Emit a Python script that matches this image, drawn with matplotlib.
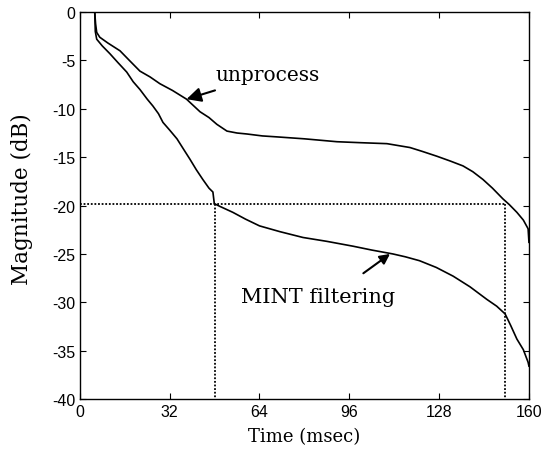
import numpy as np
import matplotlib
matplotlib.use("Agg")
import matplotlib.pyplot as plt

plt.rcParams["axes.unicode_minus"] = False

# unprocessed decay curve (time in msec, magnitude in dB)
t_unproc = [5.3, 5.6, 6.0, 7.1, 10.0, 14.3, 18.0, 21.4, 25.0, 28.5, 33.0, 38.0, 42.8, 46.0,
            48.8, 52.4, 56.0, 59.5, 65.0, 70.2, 80.0, 91.6, 100.0, 109.4, 117.6, 122.0,
            127.2, 132.0, 136.5, 140.0, 143.6, 147.0, 150.7, 153.0, 155.7, 158.0, 159.7, 160.0]
db_unproc = [0.0, -1.2, -2.1, -2.6, -3.2, -4.0, -5.1, -6.1, -6.7, -7.4, -8.1, -9.0, -10.3, -10.9,
             -11.6, -12.3, -12.5, -12.6, -12.8, -12.9, -13.1, -13.4, -13.5, -13.6, -14.0, -14.4,
             -14.9, -15.4, -15.9, -16.5, -17.3, -18.2, -19.3, -19.9, -20.7, -21.5, -22.4, -23.8]

# MINT filtered decay curve
t_mint = [5.3, 5.5, 6.0, 8.0, 10.7, 13.5, 16.7, 19.0, 21.4, 24.0, 26.0, 28.0, 29.6, 32.0, 34.6,
          37.0, 39.2, 41.5, 43.8, 46.0, 47.4, 47.9, 50.0, 54.5, 59.0, 64.0, 71.3, 79.5, 88.0,
          97.3, 104.0, 111.5, 116.0, 121.0, 127.0, 133.0, 139.0, 145.0, 148.5, 151.5, 153.5,
          155.7, 158.0, 159.7, 160.0]
db_mint = [0.0, -2.0, -2.8, -3.5, -4.3, -5.2, -6.2, -7.2, -8.0, -9.0, -9.7, -10.5, -11.4, -12.2,
           -13.1, -14.2, -15.2, -16.3, -17.3, -18.2, -18.6, -19.8, -20.1, -20.7, -21.4, -22.1,
           -22.7, -23.3, -23.7, -24.2, -24.6, -25.0, -25.3, -25.7, -26.4, -27.3, -28.4, -29.7,
           -30.4, -31.2, -32.4, -33.8, -34.9, -36.2, -36.6]

# -20 dB reference crossing times
level = -19.8
cross_mint = 48.3
cross_unproc = 151.5

x_ticks = [0, 32, 64, 96, 128, 160]
y_ticks = [0, -5, -10, -15, -20, -25, -30, -35, -40]

fig = plt.figure(figsize=(5.47, 4.52), dpi=100)
ax = fig.add_axes([0.146, 0.115, 0.821, 0.856])

ax.plot(t_unproc, db_unproc, color="black", lw=1.2)
ax.plot(t_mint, db_mint, color="black", lw=1.2)

ax.plot([0, cross_unproc], [level, level], color="black", lw=1.3, ls=(0, (1, 1)))
ax.plot([cross_mint, cross_mint], [level, -40], color="black", lw=1.3, ls=(0, (1, 1)))
ax.plot([cross_unproc, cross_unproc], [level, -40], color="black", lw=1.3, ls=(0, (1, 1)))

serif = "DejaVu Serif"
ax.annotate("unprocess", xy=(38.0, -9.0), xytext=(48.5, -6.4),
            fontsize=14.5, family=serif, va="center", ha="left",
            arrowprops=dict(arrowstyle="-|>,head_length=0.6,head_width=0.3",
                            color="black", lw=1.5, shrinkA=10, shrinkB=0))
ax.annotate("", xy=(110.5, -25.0), xytext=(101.0, -27.0),
            arrowprops=dict(arrowstyle="-|>,head_length=0.6,head_width=0.3",
                            color="black", lw=1.5, shrinkA=0, shrinkB=0))
ax.text(57.5, -29.4, "MINT filtering", fontsize=15, family=serif, va="center", ha="left")

ax.set_xlim(0, 160)
ax.set_ylim(-40, 0)
ax.set_xticks(x_ticks)
ax.set_yticks(y_ticks)
ax.tick_params(direction="in", top=True, right=True, length=4, labelsize=11.5)
for lab in ax.get_xticklabels() + ax.get_yticklabels():
    lab.set_family("Liberation Sans")
ax.set_xlabel("Time (msec)", fontsize=13, family=serif, labelpad=6)
ax.set_ylabel("Magnitude (dB)", fontsize=15.5, family=serif)
ax.yaxis.set_label_coords(-0.105, 0.52)
for sp in ax.spines.values():
    sp.set_linewidth(1.0)

fig.savefig("out.png", dpi=100)
